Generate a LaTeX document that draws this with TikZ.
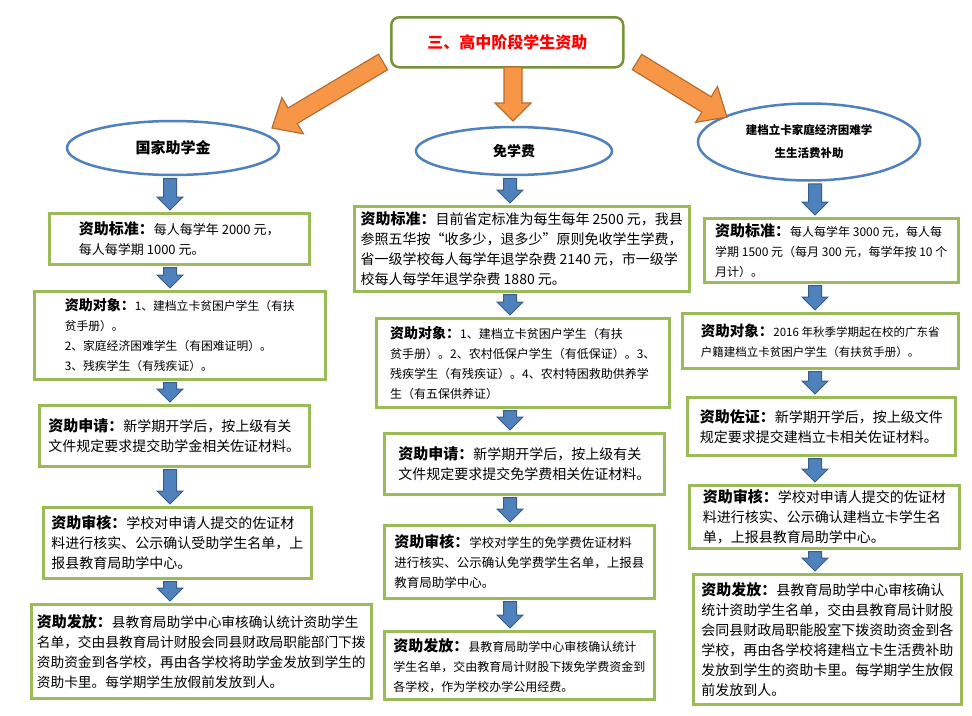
\documentclass[tikz,border=0pt]{standalone}
\usepackage{fontspec}
\setmainfont{Noto Sans CJK SC}
\usetikzlibrary{calc,shapes.geometric}
\definecolor{boxgreen}{HTML}{9BBB59}
\definecolor{titlegreen}{HTML}{77933C}
\definecolor{ellblue}{HTML}{4F81BD}
\definecolor{arrblue}{HTML}{4F81BD}
\definecolor{arrblueline}{HTML}{385D8A}
\definecolor{arrorange}{HTML}{F79646}
\definecolor{arrorangeline}{HTML}{B66D31}
\newcommand{\hd}[2][15]{{\bfseries\fontsize{#1}{20}\selectfont #2}}
\newcommand{\blockarrow}[6]{%
  \coordinate (ba-t) at (#2);
  \coordinate (ba-p) at (#3);
  \coordinate (ba-h) at ($(ba-p)!#6!(ba-t)$);
  \filldraw[#1] ($(ba-t)!#4!90:(ba-p)$) -- ($(ba-h)!#4!90:(ba-p)$) -- ($(ba-h)!#5!90:(ba-p)$)
    -- (ba-p) -- ($(ba-h)!#5!-90:(ba-p)$) -- ($(ba-h)!#4!-90:(ba-p)$) -- ($(ba-t)!#4!-90:(ba-p)$) -- cycle;}
\newcommand{\downflow}[3]{\blockarrow{bluearr}{$(#1.south -| #3)+(0,2)$}{$(#2.north -| #3)-(0,2)$}{6.5pt}{13pt}{13pt}}
\tikzset{
  stepbox/.style={draw=boxgreen, line width=2.5pt, fill=white, anchor=north west, align=left, inner sep=2pt},
  body/.style={font=\fontsize{#1}{20}\selectfont},
  fundell/.style={ellipse, draw=ellblue, line width=2.5pt, fill=white, align=center, inner sep=0pt},
  bluearr/.style={fill=arrblue, draw=arrblueline, line width=1pt, line join=miter},
  orangearr/.style={fill=arrorange, draw=arrorangeline, line width=1.2pt, line join=miter}
}
\begin{document}
\begin{tikzpicture}[x=1pt, y=-1pt, line width=0.5pt]
  \useasboundingbox (0,0) rectangle (972,715);
  \node[draw=titlegreen, line width=2.5pt, rounded corners=8pt, fill=white, anchor=north west,
    minimum width=232pt, minimum height=50pt, text=red, font=\bfseries\fontsize{16}{20}\selectfont]
    (title) at (390,16) {三、高中阶段学生资助};

  \node[fundell, minimum width=212pt, minimum height=54pt, font=\bfseries\fontsize{15}{20}\selectfont] (e1) at (173,148) {国家助学金};
  \node[fundell, minimum width=196pt, minimum height=48pt, font=\bfseries\fontsize{14}{20}\selectfont] (e2) at (514,151) {免学费};
  \node[fundell, minimum width=222pt, minimum height=77pt, font=\bfseries\fontsize{11.5}{23}\selectfont] (e3) at (809,142)
    {建档立卡家庭经济困难学\\生生活费补助};

  \coordinate (ot1) at (383,62);  \coordinate (op1) at (272,128);
  \coordinate (ot2) at (513,67);  \coordinate (op2) at (513,121);
  \coordinate (ot3) at (637,62);  \coordinate (op3) at (727,117);
  \blockarrow{orangearr}{ot1}{op1}{9pt}{21pt}{24pt}
  \blockarrow{orangearr}{ot2}{op2}{9pt}{18pt}{18pt}
  \blockarrow{orangearr}{ot3}{op3}{9pt}{21pt}{24pt}

  \node[stepbox, minimum width=260pt, minimum height=51pt, body=13] (l1) at (48,212)
    {\hd{资助标准：}每人每学年 2000 元，\\每人每学期 1000 元。};
  \node[stepbox, minimum width=291pt, minimum height=88pt, body=11.8] (l2) at (33,290)
    {\hd[14]{资助对象：}1、建档立卡贫困户学生（有扶\\贫手册）。\\2、家庭经济困难学生（有困难证明）。\\3、残疾学生（有残疾证）。};
  \node[stepbox, minimum width=270pt, minimum height=61pt, body=14] (l3) at (38,404)
    {\hd{资助申请：}新学期开学后，按上级有关\\文件规定要求提交助学金相关佐证材料。};
  \node[stepbox, minimum width=268pt, minimum height=71pt, body=14] (l4) at (42,506)
    {\hd{资助审核：}学校对申请人提交的佐证材\\料进行核实、公示确认受助学生名单，上\\报县教育局助学中心。};
  \node[stepbox, minimum width=340pt, minimum height=94pt, body=13.7] (l5) at (30,603)
    {\hd{资助发放：}县教育局助学中心审核确认统计资助学生\\名单，交由县教育局计财股会同县财政局职能部门下拨\\资助资金到各学校，再由各学校将助学金发放到学生的\\资助卡里。每学期学生放假前发放到人。};

  \node[stepbox, minimum width=335pt, minimum height=85pt, body=14] (m1) at (353,205)
    {\hd{资助标准：}目前省定标准为每生每年 2500 元，我县\\参照五华按“收多少，退多少”原则免收学生学费，\\省一级学校每人每学年退学杂费 2140 元，市一级学\\校每人每学年退学杂费 1880 元。};
  \node[stepbox, minimum width=293pt, minimum height=89pt, body=12] (m2) at (375,317)
    {\hd[14]{资助对象：}1、建档立卡贫困户学生（有扶\\贫手册）。2、农村低保户学生（有低保证）。3、\\残疾学生（有残疾证）。4、农村特困救助供养学\\生（有五保供养证）};
  \node[stepbox, minimum width=280pt, minimum height=61pt, body=14] (m3) at (383,432)
    {\hd{资助申请：}新学期开学后，按上级有关\\文件规定要求提交免学费相关佐证材料。};
  \node[stepbox, minimum width=270pt, minimum height=73pt, body=12.5] (m4) at (383,524)
    {\hd{资助审核：}学校对学生的免学费佐证材料\\进行核实、公示确认免学费学生名单，上报县\\教育局助学中心。};
  \node[stepbox, minimum width=270pt, minimum height=68pt, body=12] (m5) at (383,630)
    {\hd{资助发放：}县教育局助学中心审核确认统计\\学生名单，交由教育局计财股下拨免学费资金到\\各学校，作为学校办学公用经费。};

  \node[stepbox, minimum width=254pt, minimum height=64pt, body=12] (r1) at (703,217)
    {\hd{资助标准：}每人每学年 3000 元，每人每\\学期 1500 元（每月 300 元，每学年按 10 个\\月计）。};
  \node[stepbox, minimum width=276pt, minimum height=55pt, body=11.5] (r2) at (681,312)
    {\hd[14.5]{资助对象：}2016 年秋季学期起在校的广东省\\户籍建档立卡贫困户学生（有扶贫手册）。};
  \node[stepbox, minimum width=268pt, minimum height=58pt, body=14] (r3) at (686,396)
    {\hd{资助佐证：}新学期开学后，按上级文件\\规定要求提交建档立卡相关佐证材料。};
  \node[stepbox, minimum width=270pt, minimum height=63pt, body=14] (r4) at (688,484)
    {\hd{资助审核：}学校对申请人提交的佐证材\\料进行核实、公示确认建档立卡学生名\\单，上报县教育局助学中心。};
  \node[stepbox, minimum width=268pt, minimum height=130pt, body=14] (r5) at (692,573)
    {\hd{资助发放：}县教育局助学中心审核确认\\统计资助学生名单，交由县教育局计财股\\会同县财政局职能股室下拨资助资金到各\\学校，再由各学校将建档立卡生活费补助\\发放到学生的资助卡里。每学期学生放假\\前发放到人。};

  \coordinate (lx) at (170,0);
  \coordinate (mx) at (510,0);
  \coordinate (rx) at (815,0);
  \foreach \a/\b in {e1/l1,l1/l2,l2/l3,l3/l4,l4/l5}{\downflow{\a}{\b}{lx}}
  \foreach \a/\b in {e2/m1,m1/m2,m2/m3,m3/m4,m4/m5}{\downflow{\a}{\b}{mx}}
  \foreach \a/\b in {e3/r1,r1/r2,r2/r3,r3/r4,r4/r5}{\downflow{\a}{\b}{rx}}
\end{tikzpicture}
\end{document}
